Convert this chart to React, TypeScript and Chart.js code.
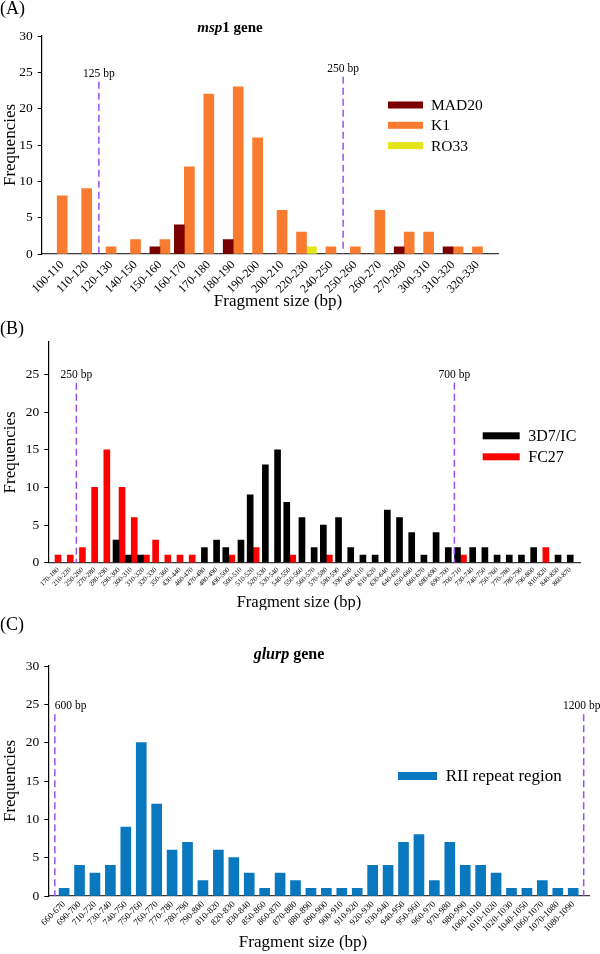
import React, { useEffect, useRef } from 'react';
import { Chart, registerables } from 'chart.js';

Chart.register(...registerables);

const FONT = "'Liberation Serif', 'Times New Roman', serif";

// ---------- Panel A : msp1 gene ----------
const aCategories = ['100-110', '110-120', '120-130', '140-150', '150-160', '160-170', '170-180', '180-190', '190-200', '200-210', '220-230', '240-250', '250-260', '260-270', '270-280', '300-310', '310-320', '320-330'];
const aMAD20 = [null, null, null, null, 1, 4, null, 2, null, null, null, null, null, null, 1, null, 1, null];
const aK1 = [8, 9, 1, 2, 2, 12, 22, 23, 16, 6, 3, 1, 1, 6, 3, 3, 1, 1];
const aRO33 = [null, null, null, null, null, null, null, null, null, null, 1, null, null, null, null, null, null, null];
const aMarkerPos = [1.5, 11.5];
const aMarkerTop = [23.7, 24.4];
const aMarkerLabels = ['125 bp', '250 bp'];

// ---------- Panel B ----------
const bCategories = ['170-180', '210-220', '250-260', '270-280', '280-290', '290-300', '300-310', '310-320', '320-330', '350-360', '430-440', '460-470', '470-480', '480-490', '490-500', '500-510', '510-520', '520-530', '530-540', '540-550', '550-560', '560-570', '570-580', '580-590', '590-600', '600-610', '610-620', '630-640', '640-650', '650-660', '660-670', '680-690', '690-700', '700-710', '730-740', '740-750', '750-760', '770-780', '780-790', '790-800', '810-820', '840-850', '860-870'];
const b3D7 = [null, null, null, null, null, 3, 1, 1, null, null, null, null, 2, 3, 2, 3, 9, 13, 15, 8, 6, 2, 5, 6, 2, 1, 1, 7, 6, 4, 1, 4, 2, 2, 2, 2, 1, 1, 1, 2, null, 1, 1];
const bFC27 = [1, 1, 2, 10, 15, 10, 6, 1, 3, 1, 1, 1, null, null, 1, null, 2, null, null, 1, null, null, 1, null, null, null, null, null, null, null, null, null, null, 1, null, null, null, null, null, null, 2, null, null];
const bMarkerPos = [1.5, 32.5];
const bMarkerTop = [23.9, 23.9];
const bMarkerLabels = ['250 bp', '700 bp'];

// ---------- Panel C : glurp gene ----------
const cCategories = ['660-670', '690-700', '710-720', '730-740', '740-750', '750-760', '760-770', '770-780', '780-790', '790-800', '810-820', '820-830', '830-840', '850-860', '860-870', '870-880', '880-890', '890-900', '900-910', '910-920', '920-930', '930-940', '940-950', '950-960', '960-970', '970-980', '980-990', '1000-1010', '1010-1020', '1020-1030', '1040-1050', '1060-1070', '1070-1080', '1080-1090'];
const cRII = [1, 4, 3, 4, 9, 20, 12, 6, 7, 2, 6, 5, 3, 1, 3, 2, 1, 1, 1, 1, 4, 4, 7, 8, 2, 7, 4, 4, 3, 1, 1, 2, 1, 1];
const cMarkerPos = [-0.6, 33.68];
const cMarkerTop = [23.7, 23.7];
const cMarkerLabels = ['600 bp', '1200 bp'];

type Series = { label: string; data: (number | null)[]; color: string };
type Spec = {
  height: number;
  area: { left: number; right: number; top: number; bottom: number };
  categories: string[];
  series: Series[];
  barThickness: number;
  catPad: number;
  yMax: number;
  xTickSize: number;
  xTickPadding: number;
  markers: { pos: number[]; top: number[]; labels: string[]; align: CanvasTextAlign[]; dx: number[] };
  letter: { text: string; y: number };
  title?: { parts: { text: string; italic?: boolean }[]; x: number; y: number; size: number };
  xTitle: { x: number; y: number; size: number };
  legend: { boxX: number; boxW: number; boxH: number; y: number; gap: number; textX: number; size: number };
};

function makeDecor(s: Spec) {
  return {
    id: 'decor',
    afterDatasetsDraw(chart: any) {
      const ctx = chart.ctx as CanvasRenderingContext2D;
      const xs = chart.scales.x;
      const ys = chart.scales.y;
      const bottom = chart.chartArea.bottom;
      s.markers.pos.forEach((p, i) => {
        const x = xs.getPixelForValue(p);
        const yTop = ys.getPixelForValue(s.markers.top[i]);
        ctx.save();
        ctx.strokeStyle = '#9a50f0';
        ctx.lineWidth = 1.5;
        ctx.setLineDash([7, 4]);
        ctx.beginPath();
        ctx.moveTo(x, yTop);
        ctx.lineTo(x, bottom);
        ctx.stroke();
        ctx.setLineDash([]);
        ctx.fillStyle = '#000';
        ctx.font = `11.5px ${FONT}`;
        ctx.textAlign = s.markers.align[i];
        ctx.textBaseline = 'alphabetic';
        ctx.fillText(s.markers.labels[i], x + s.markers.dx[i], yTop - 5);
        ctx.restore();
      });
    },
    afterDraw(chart: any) {
      const ctx = chart.ctx as CanvasRenderingContext2D;
      ctx.save();
      ctx.fillStyle = '#000';
      // panel letter
      ctx.font = `18px ${FONT}`;
      ctx.textAlign = 'left';
      ctx.textBaseline = 'middle';
      ctx.fillText(s.letter.text, 0, s.letter.y);
      // title
      if (s.title) {
        const t = s.title;
        const fonts = t.parts.map((p) => `${p.italic ? 'italic ' : ''}bold ${t.size}px ${FONT}`);
        let total = 0;
        const widths = t.parts.map((p, i) => {
          ctx.font = fonts[i];
          const w = ctx.measureText(p.text).width;
          total += w;
          return w;
        });
        let x = t.x - total / 2;
        ctx.textAlign = 'left';
        ctx.textBaseline = 'middle';
        t.parts.forEach((p, i) => {
          ctx.font = fonts[i];
          ctx.fillText(p.text, x, t.y);
          x += widths[i];
        });
      }
      // x title
      ctx.font = `${s.xTitle.size}px ${FONT}`;
      ctx.textAlign = 'center';
      ctx.textBaseline = 'middle';
      ctx.fillText('Fragment size (bp)', s.xTitle.x, s.xTitle.y);
      // legend
      const L = s.legend;
      chart.data.datasets.forEach((d: any, i: number) => {
        const cy = L.y + i * L.gap;
        ctx.fillStyle = d.backgroundColor;
        ctx.fillRect(L.boxX, cy - L.boxH / 2, L.boxW, L.boxH);
        ctx.fillStyle = '#000';
        ctx.font = `${L.size}px ${FONT}`;
        ctx.textAlign = 'left';
        ctx.textBaseline = 'middle';
        ctx.fillText(d.label, L.textX, cy + 1);
      });
      ctx.restore();
    },
  };
}

function makeChart(canvas: HTMLCanvasElement, s: Spec) {
  const H = s.height;
  return new Chart(canvas, {
    type: 'bar',
    data: {
      labels: s.categories,
      datasets: s.series.map((d) => ({
        label: d.label,
        data: d.data as any,
        backgroundColor: d.color,
        borderWidth: 0,
        barThickness: s.barThickness,
        skipNull: true,
      })),
    },
    options: {
      responsive: false,
      animation: false,
      devicePixelRatio: 1,
      layout: { padding: { left: 0, top: s.area.top, right: 600 - s.area.right, bottom: 0 } },
      plugins: {
        legend: { display: false },
        tooltip: { enabled: false },
        title: { display: false },
      },
      scales: {
        x: {
          type: 'category',
          offset: true,
          grid: { display: false, drawTicks: false },
          border: { display: true, color: '#3a3a3a', width: 1.2 },
          ticks: {
            autoSkip: false,
            maxRotation: 45,
            minRotation: 45,
            padding: s.xTickPadding,
            color: '#000',
            font: { family: FONT, size: s.xTickSize },
          },
          afterFit: (sc: any) => {
            sc.height = H - s.area.bottom;
          },
          afterBuildTicks: (sc: any) => {
            sc._startValue -= s.catPad;
            sc._valueRange += 2 * s.catPad;
          },
        } as any,
        y: {
          min: 0,
          max: s.yMax,
          ticks: { stepSize: 5, color: '#000', padding: 5, font: { family: FONT, size: 13.5 } },
          grid: { display: true, drawOnChartArea: false, drawTicks: true, tickLength: 4, color: '#000' },
          border: { display: true, color: '#000', width: 1.2 },
          title: { display: true, text: 'Frequencies', color: '#000', font: { family: FONT, size: 17 }, padding: 0 },
          afterFit: (sc: any) => {
            sc.width = s.area.left;
          },
          afterBuildTicks: (sc: any) => {
            sc.ticks = sc.ticks.filter((t: any) => t.value % 5 === 0);
          },
        } as any,
      },
    },
    plugins: [makeDecor(s) as any],
  });
}

const specA: Spec = {
  height: 312,
  area: { left: 41.7, right: 498, top: 36, bottom: 254 },
  categories: aCategories,
  series: [
    { label: 'MAD20', data: aMAD20, color: '#7a0000' },
    { label: 'K1', data: aK1, color: '#f97b30' },
    { label: 'RO33', data: aRO33, color: '#e4e41a' },
  ],
  barThickness: 10,
  catPad: 0.34,
  yMax: 30,
  xTickSize: 12,
  xTickPadding: 4,
  markers: { pos: aMarkerPos, top: aMarkerTop, labels: aMarkerLabels, align: ['center', 'center'], dx: [0, 0] },
  letter: { text: '(A)', y: 9 },
  title: { parts: [{ text: 'msp', italic: true }, { text: '1 gene' }], x: 230, y: 28, size: 15 },
  xTitle: { x: 278, y: 302, size: 17 },
  legend: { boxX: 388, boxW: 35, boxH: 7, y: 105, gap: 20.3, textX: 431, size: 15.5 },
};

const specB: Spec = {
  height: 298,
  area: { left: 48.3, right: 580, top: 30, bottom: 250.7 },
  categories: bCategories,
  series: [
    { label: '3D7/IC', data: b3D7, color: '#000000' },
    { label: 'FC27', data: bFC27, color: '#ff0000' },
  ],
  barThickness: 6,
  catPad: 0.3,
  yMax: 29.3,
  xTickSize: 7,
  xTickPadding: 3,
  markers: { pos: bMarkerPos, top: bMarkerTop, labels: bMarkerLabels, align: ['center', 'center'], dx: [0, 0] },
  letter: { text: '(B)', y: 17 },
  xTitle: { x: 299, y: 291, size: 16.5 },
  legend: { boxX: 482.7, boxW: 37, boxH: 7, y: 123.8, gap: 21, textX: 528.3, size: 16 },
};

const specC: Spec = {
  height: 344,
  area: { left: 48.3, right: 589, top: 56, bottom: 286 },
  categories: cCategories,
  series: [{ label: 'RII repeat region', data: cRII, color: '#0a78be' }],
  barThickness: 10,
  catPad: 0.524,
  yMax: 30,
  xTickSize: 9,
  xTickPadding: 3,
  markers: { pos: cMarkerPos, top: cMarkerTop, labels: cMarkerLabels, align: ['left', 'center'], dx: [0, -2] },
  letter: { text: '(C)', y: 15 },
  title: { parts: [{ text: 'glurp', italic: true }, { text: ' gene' }], x: 289, y: 45, size: 16 },
  xTitle: { x: 303, y: 333, size: 17 },
  legend: { boxX: 398, boxW: 39, boxH: 8, y: 166, gap: 20, textX: 445.7, size: 17 },
};

export default function App() {
  const refA = useRef<HTMLCanvasElement>(null);
  const refB = useRef<HTMLCanvasElement>(null);
  const refC = useRef<HTMLCanvasElement>(null);

  useEffect(() => {
    document.body.style.margin = '0';
    const charts = [
      makeChart(refA.current!, specA),
      makeChart(refB.current!, specB),
      makeChart(refC.current!, specC),
    ];
    return () => charts.forEach((c) => c.destroy());
  }, []);

  const cs = (top: number, h: number): React.CSSProperties => ({
    position: 'absolute',
    left: 0,
    top,
    width: 600,
    height: h,
    display: 'block',
  });

  return (
    <div style={{ position: 'relative', width: 600, height: 954, background: '#fff', overflow: 'hidden' }}>
      <canvas ref={refA} width={600} height={312} style={cs(0, 312)} />
      <canvas ref={refB} width={600} height={298} style={cs(312, 298)} />
      <canvas ref={refC} width={600} height={344} style={cs(610, 344)} />
    </div>
  );
}
